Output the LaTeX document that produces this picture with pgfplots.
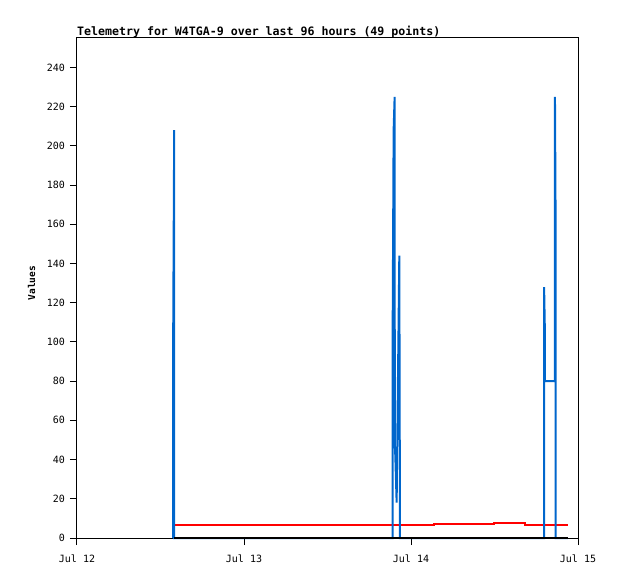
\documentclass[border=0pt]{standalone}
\usepackage{pgfplots}
\pgfplotsset{compat=1.18}
\usepackage{fontspec}
\setmainfont{DejaVu Sans Mono}
\setmonofont{DejaVu Sans Mono}
\definecolor{serblue}{RGB}{0,102,204}
\definecolor{serred}{RGB}{255,0,0}
\begin{document}
\begin{tikzpicture}[x=1pt,y=1pt]
\useasboundingbox (-77pt,-41pt) rectangle (541pt,538pt);
\begin{axis}[
  scale only axis, width=501pt, height=500pt,
  at={(0pt,0pt)}, anchor=south west,
  xmin=0, xmax=3, ymin=0, ymax=255,
  xtick={0,1,2,3}, xticklabels={Jul 12,Jul 13,Jul 14,Jul 15},
  ytick={0,20,...,240},
  tick align=outside, tick pos=left,
  major tick length=7pt,
  axis line style={line width=1pt, black},
  every tick/.style={line width=1pt, black},
  /pgf/number format/assume math mode=true,
  ticklabel style={font=\ttfamily\fontsize{10}{10}\selectfont},
  xticklabel style={yshift=-6.5pt},
  yticklabel style={xshift=-1.5pt},
  ylabel={Values},
  ylabel style={at={(axis description cs:-0.0908,0.51)}, anchor=center, font=\ttfamily\bfseries\fontsize{9.5}{9.5}\selectfont},
  title={Telemetry for W4TGA-9 over last 96 hours (49 points)},
  title style={at={(axis description cs:0,1)}, anchor=base west, yshift=-4pt, inner sep=0pt, font=\ttfamily\bfseries\fontsize{11.6}{11.6}\selectfont},
  clip=false,
]
\addplot[serred, line width=2pt, const plot] coordinates {
 (0.582,6.8) (2.136,7.3) (2.496,7.8) (2.682,6.8) (2.940,6.8)
};
\addplot[serblue, line width=2pt] coordinates {
 (0.576,0) (0.576,104) (0.582,208) (0.582,0)
 (1.890,0) (1.890,104) (1.896,208) (1.902,225) (1.903,48) (1.906,42)
 (1.910,30) (1.914,18) (1.930,144) (1.934,0)
 (2.797,0) (2.797,128) (2.802,104) (2.802,80) (2.862,80) (2.862,225)
 (2.866,160) (2.866,0) (2.940,0)
};
\addplot[black, line width=2pt] coordinates {
 (0.582,0) (2.940,0)
};
\end{axis}
\end{tikzpicture}
\end{document}
